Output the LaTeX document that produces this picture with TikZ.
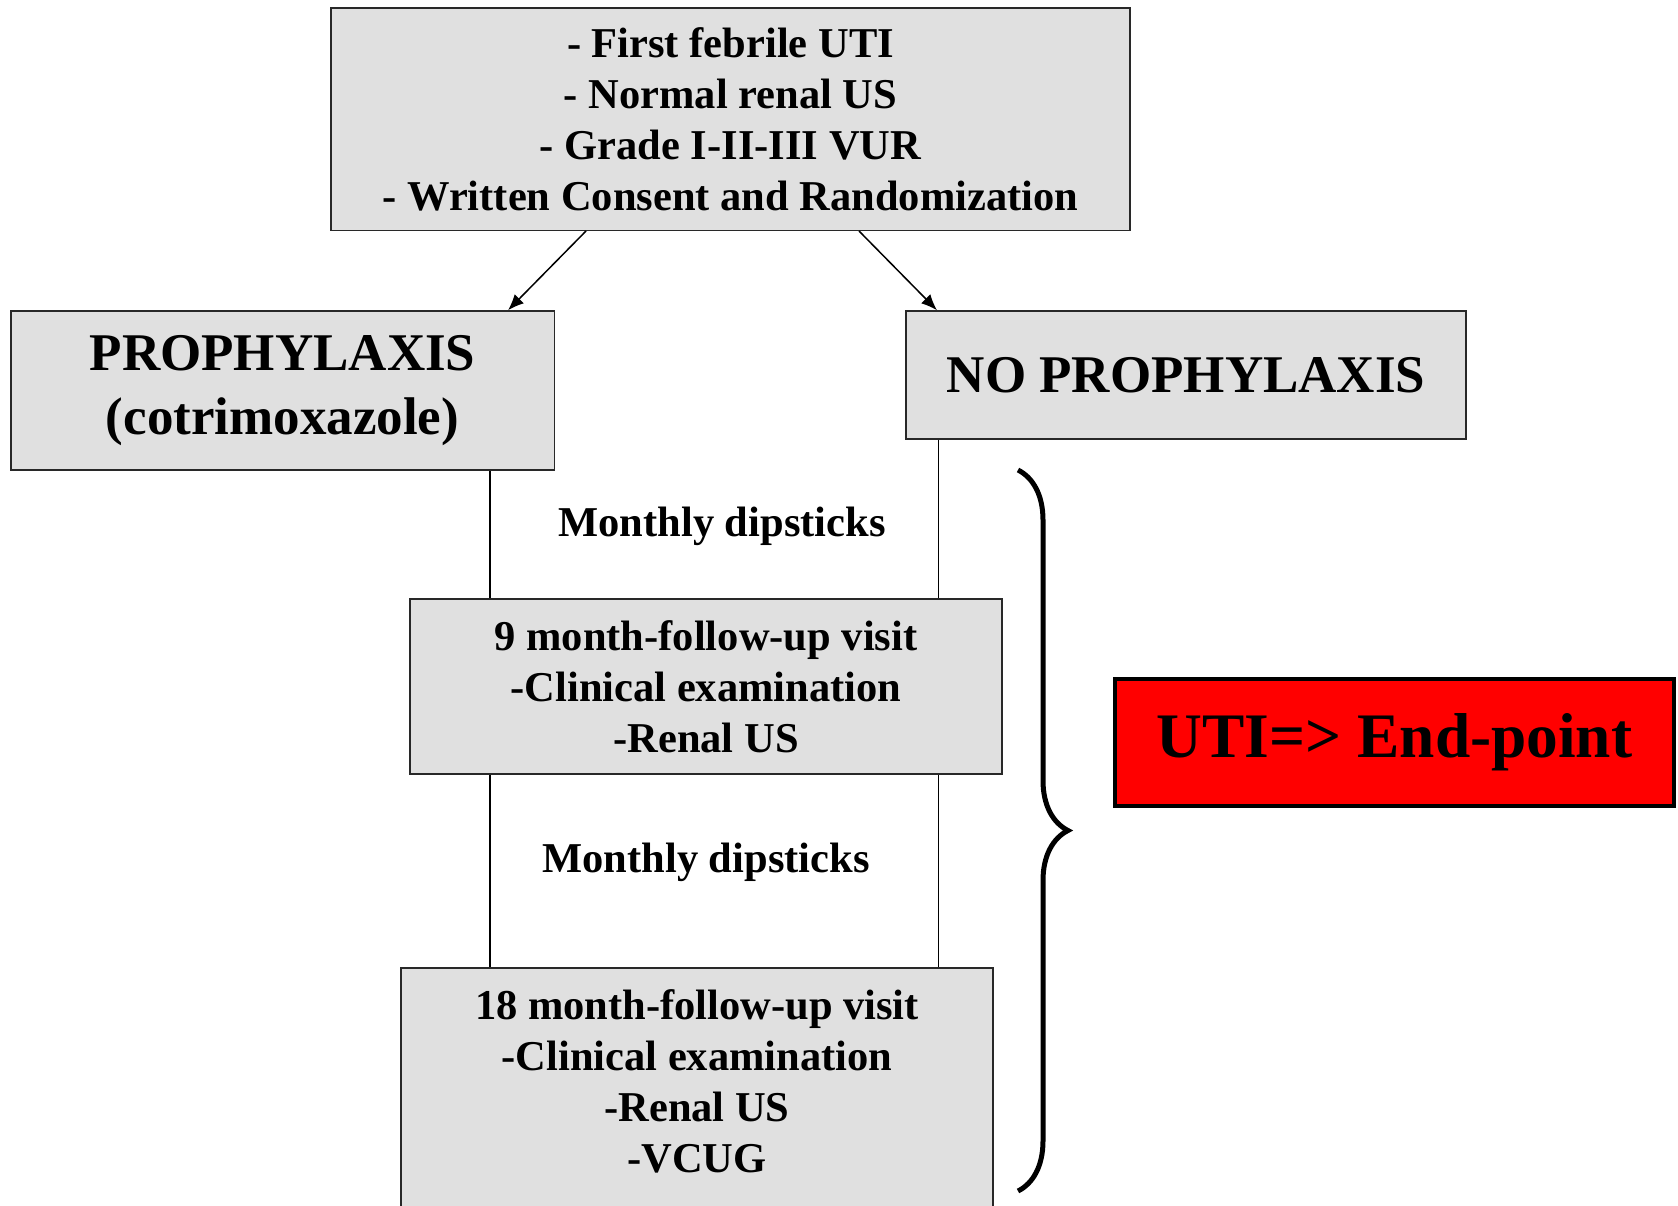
\documentclass[tikz,border=0pt]{standalone}
\usepackage{fontspec}
\setmainfont{Liberation Serif}
\usetikzlibrary{arrows.meta,decorations.pathreplacing}
\definecolor{granite}{RGB}{224,224,224}
\definecolor{edgegray}{RGB}{40,40,40}

\begin{document}
\begin{tikzpicture}[x=1pt,y=-1pt,
  greybox/.style={draw=edgegray,line width=1.5pt,fill=granite,align=center,inner sep=0pt},
  midtext/.style={font=\bfseries\fontsize{42.5}{51}\selectfont},
  bigtext/.style={font=\bfseries\fontsize{53}{64}\selectfont},
  link/.style={line width=1.5pt},
  arrowline/.style={line width=1.5pt,-{Latex[length=16pt,width=13pt]}},
  endbox/.style={draw=black,line width=4pt,fill=red,inner sep=0pt,
    font=\bfseries\fontsize{63.4}{76}\selectfont},
  bracestyle/.style={line width=5pt,decorate,decoration={brace,amplitude=50pt}}]
  \useasboundingbox (0,0) rectangle (1678,1205);
  \node[greybox,midtext,minimum width=799pt,minimum height=222.5pt] (top) at (730.5,119)
    {- First febrile UTI\\- Normal renal US\\- Grade I-II-III VUR\\- Written Consent and Randomization};
  \node[greybox,bigtext,minimum width=543.5pt,minimum height=159pt] (pro) at (282.5,390.5)
    {PROPHYLAXIS\\(cotrimoxazole)};
  \node[greybox,bigtext,minimum width=560pt,minimum height=128pt] (nopro) at (1186,375)
    {NO PROPHYLAXIS};
  \node[greybox,midtext,minimum width=592pt,minimum height=175pt] (nine) at (706,686.5)
    {9 month-follow-up visit\\-Clinical examination\\-Renal US};
  \node[greybox,midtext,minimum width=592pt,anchor=north,inner ysep=22pt] (eighteen) at (697,967)
    {18 month-follow-up visit\\-Clinical examination\\-Renal US\\-VCUG\\[30pt]\strut};
  \node[midtext] (dipone) at (722,526) {Monthly dipsticks};
  \node[midtext] (diptwo) at (706,862) {Monthly dipsticks};
  \node[endbox,minimum width=559pt,minimum height=127pt] (endpt) at (1394.5,742.5) {UTI=> End-point};
  \coordinate (colL) at (490,0);
  \coordinate (colR) at (938.5,0);
  \coordinate (braceTop) at (1018,470);
  \coordinate (braceBot) at (1018,1191);
  \draw[arrowline] ([xshift=-144.5pt]top.south) -- ([xshift=225.5pt]pro.north);
  \draw[arrowline] ([xshift=128.5pt]top.south) -- ([xshift=-249pt]nopro.north);
  \draw[link] (colL |- pro.south) -- (colL |- nine.north);
  \draw[link] (colL |- nine.south) -- (colL |- eighteen.north);
  \draw[link] (colR |- nopro.south) -- (colR |- nine.north);
  \draw[link] (colR |- nine.south) -- (colR |- eighteen.north);
  \draw[bracestyle] (braceTop) -- (braceBot);
\end{tikzpicture}
\end{document}
